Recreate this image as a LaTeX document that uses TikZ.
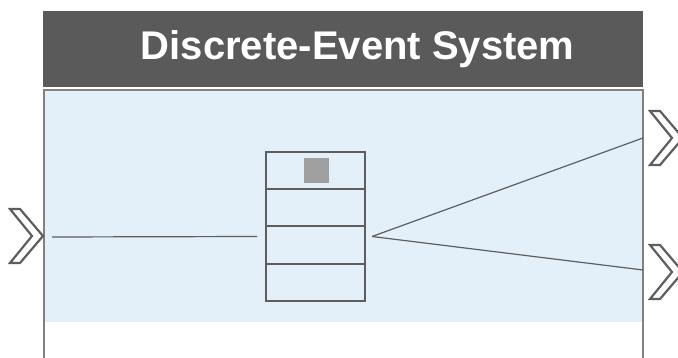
\documentclass[tikz,border=0pt]{standalone}
\usepackage{fontspec}
\setmainfont{Liberation Sans}
\usepackage{xcolor}
\usetikzlibrary{positioning,calc}
\definecolor{headgray}{HTML}{5A5A5A}
\definecolor{linegray}{HTML}{5E5E5E}
\definecolor{bodyblue}{HTML}{E3F0FA}
\tikzset{
  cell/.style={rectangle,draw=linegray,line width=2pt,minimum width=99pt,minimum height=37.25pt,inner sep=0pt,outer sep=0pt},
  wire/.style={draw=linegray,line width=1.2pt},
  chevron/.style={draw=linegray,line width=2.2pt,fill=white,line join=miter}
}
\begin{document}
\begin{tikzpicture}[x=1pt,y=-1pt]
    \useasboundingbox (0,0) rectangle (678,358);
    % body and header
    \fill[bodyblue] (44,90) rectangle (643,322);
    \draw[draw=gray,line width=2pt] (44,362) -- (44,90) -- (643,90) -- (643,362);
    \node[fill=headgray,minimum width=600pt,minimum height=76pt,inner sep=0pt,anchor=north west,
          text=white,font=\fontsize{40}{40}\selectfont\bfseries] (head) at (43,11) {\hspace*{29pt}Discrete-Event System};
    % queue
    \foreach \i in {1,...,4}
        \node[cell] (cell\i) at (315.5,{152+18.625+(\i-1)*37.25}) {};
    \fill[gray!75] (304,158) rectangle (329,183);
    % ports
    \coordinate (in) at (43,236);
    \coordinate (outa) at (683,138);
    \coordinate (outb) at (683,272);
    \foreach \p in {in,outa,outb}
        \draw[chevron] ($(\p)+(-33,-27)$) -- ++(10,0) -- (\p) -- ++(-23,27) -- ++(-10,0) -- ($(\p)+(-11,0)$) -- cycle;
    % connectors
    \draw[wire] ($(in)+(9,1)$) -- ($(cell3.north west)+(-9,10)$);
    \coordinate (fork) at ($(cell3.north east)+(7,10)$);
    \draw[wire] (fork) -- (643,138);
    \draw[wire] (fork) -- (643,270);
\end{tikzpicture}
\end{document}
